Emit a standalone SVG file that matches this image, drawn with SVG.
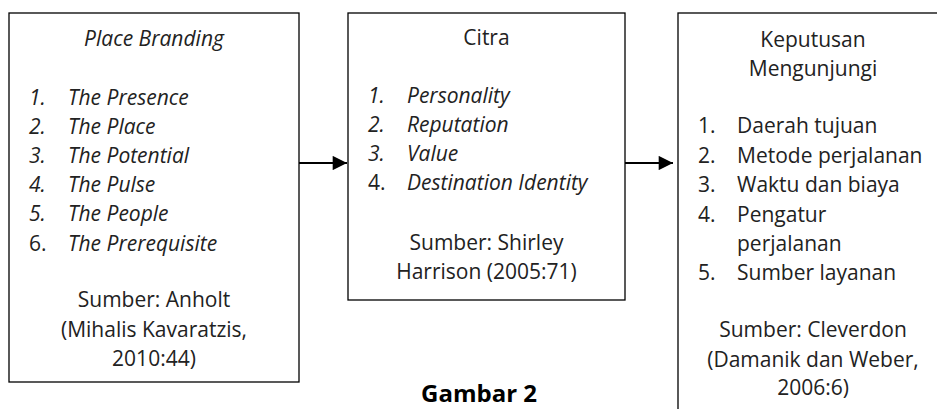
<svg xmlns="http://www.w3.org/2000/svg" width="937" height="409" viewBox="0 0 937 409">
<style>
  .box{fill:#fff;stroke:#000;stroke-width:1.3}
  text{font-family:"Open Sans","Noto Sans","Liberation Sans",sans-serif;font-size:21px;fill:#222}
  .c{text-anchor:middle}
  .i{font-style:italic}
  .conn{stroke:#000;stroke-width:2.2;fill:none}
  .title{font-weight:bold;font-size:24px;fill:#000}
</style>
<defs>
  <marker id="ah" viewBox="0 0 10 10" refX="10" refY="5" markerWidth="7" markerHeight="6.5" markerUnits="strokeWidth" orient="auto">
    <path d="M0,0 L10,5 L0,10 z" fill="#000"/>
  </marker>
</defs>
<rect width="937" height="409" fill="#fff"/>
<g id="node-place-branding">
  <rect class="box" x="9" y="13" width="290" height="369"/>
  <text class="c i" x="154" y="46">Place Branding</text>
  <text class="i" x="29" y="105">1.</text><text class="i" x="68" y="105">The Presence</text>
  <text class="i" x="29" y="134">2.</text><text class="i" x="68" y="134">The Place</text>
  <text class="i" x="29" y="163">3.</text><text class="i" x="68" y="163">The Potential</text>
  <text class="i" x="29" y="192">4.</text><text class="i" x="68" y="192">The Pulse</text>
  <text class="i" x="29" y="221">5.</text><text class="i" x="68" y="221">The People</text>
  <text x="29" y="251">6.</text><text class="i" x="68" y="251">The Prerequisite</text>
  <text class="c" x="154" y="307">Sumber: Anholt</text>
  <text class="c" x="154" y="337">(Mihalis Kavaratzis,</text>
  <text class="c" x="154" y="366">2010:44)</text>
</g>
<g id="node-citra">
  <rect class="box" x="348" y="13" width="277" height="287"/>
  <text class="c" x="486.5" y="45">Citra</text>
  <text class="i" x="368" y="103">1.</text><text class="i" x="407" y="103">Personality</text>
  <text class="i" x="368" y="132">2.</text><text class="i" x="407" y="132">Reputation</text>
  <text class="i" x="368" y="161">3.</text><text class="i" x="407" y="161">Value</text>
  <text x="368" y="190">4.</text><text class="i" x="407" y="190">Destination Identity</text>
  <text class="c" x="486.5" y="250">Sumber: Shirley</text>
  <text class="c" x="486.5" y="279">Harrison (2005:71)</text>
</g>
<g id="node-keputusan">
  <rect class="box" x="678" y="13" width="300" height="420"/>
  <text class="c" x="813" y="47">Keputusan</text>
  <text class="c" x="813" y="76">Mengunjungi</text>
  <text x="698" y="133">1.</text><text x="737" y="133">Daerah tujuan</text>
  <text x="698" y="163">2.</text><text x="737" y="163">Metode perjalanan</text>
  <text x="698" y="192">3.</text><text x="737" y="192">Waktu dan biaya</text>
  <text x="698" y="222">4.</text><text x="737" y="222">Pengatur</text>
  <text x="737" y="251">perjalanan</text>
  <text x="698" y="280">5.</text><text x="737" y="280">Sumber layanan</text>
  <text class="c" x="813" y="337">Sumber: Cleverdon</text>
  <text class="c" x="813" y="367">(Damanik dan Weber,</text>
  <text class="c" x="813" y="395">2006:6)</text>
</g>
<g id="connectors">
  <line class="conn" x1="299" y1="163" x2="347" y2="163" marker-end="url(#ah)"/>
  <line class="conn" x1="625" y1="163" x2="673" y2="163" marker-end="url(#ah)"/>
</g>
<text class="c title" x="479" y="402">Gambar 2</text>
</svg>
